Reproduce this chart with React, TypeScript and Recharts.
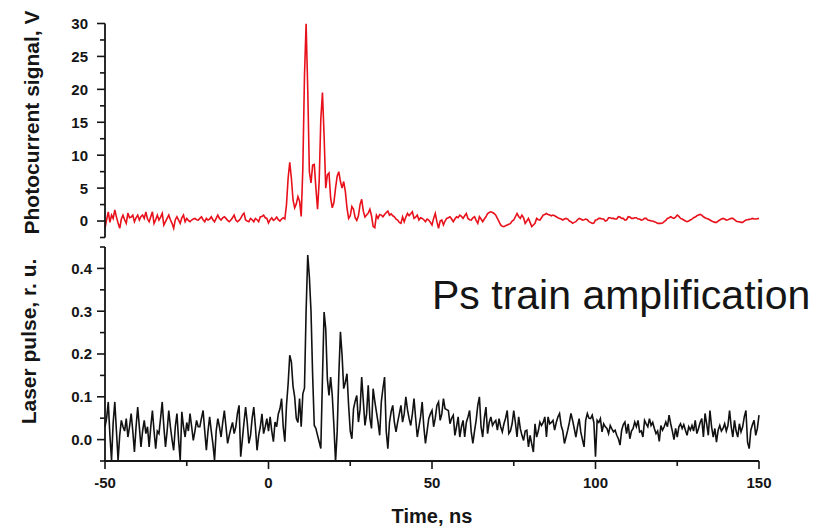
import React from 'react'
import { LineChart, Line, XAxis, YAxis } from 'recharts'

// time axis, ns (0.5 ns sampling)
const timeNs = [
  -50, -49.5, -49, -48.5, -48, -47.5, -47, -46.5, -46, -45.5,
  -45, -44.5, -44, -43.5, -43, -42.5, -42, -41.5, -41, -40.5,
  -40, -39.5, -39, -38.5, -38, -37.5, -37, -36.5, -36, -35.5,
  -35, -34.5, -34, -33.5, -33, -32.5, -32, -31.5, -31, -30.5,
  -30, -29.5, -29, -28.5, -28, -27.5, -27, -26.5, -26, -25.5,
  -25, -24.5, -24, -23.5, -23, -22.5, -22, -21.5, -21, -20.5,
  -20, -19.5, -19, -18.5, -18, -17.5, -17, -16.5, -16, -15.5,
  -15, -14.5, -14, -13.5, -13, -12.5, -12, -11.5, -11, -10.5,
  -10, -9.5, -9, -8.5, -8, -7.5, -7, -6.5, -6, -5.5,
  -5, -4.5, -4, -3.5, -3, -2.5, -2, -1.5, -1, -0.5,
  0, 0.5, 1, 1.5, 2, 2.5, 3, 3.5, 4, 4.5,
  5, 5.5, 6, 6.5, 7, 7.5, 8, 8.5, 9, 9.5,
  10, 10.5, 11, 11.5, 12, 12.5, 13, 13.5, 14, 14.5,
  15, 15.5, 16, 16.5, 17, 17.5, 18, 18.5, 19, 19.5,
  20, 20.5, 21, 21.5, 22, 22.5, 23, 23.5, 24, 24.5,
  25, 25.5, 26, 26.5, 27, 27.5, 28, 28.5, 29, 29.5,
  30, 30.5, 31, 31.5, 32, 32.5, 33, 33.5, 34, 34.5,
  35, 35.5, 36, 36.5, 37, 37.5, 38, 38.5, 39, 39.5,
  40, 40.5, 41, 41.5, 42, 42.5, 43, 43.5, 44, 44.5,
  45, 45.5, 46, 46.5, 47, 47.5, 48, 48.5, 49, 49.5,
  50, 50.5, 51, 51.5, 52, 52.5, 53, 53.5, 54, 54.5,
  55, 55.5, 56, 56.5, 57, 57.5, 58, 58.5, 59, 59.5,
  60, 60.5, 61, 61.5, 62, 62.5, 63, 63.5, 64, 64.5,
  65, 65.5, 66, 66.5, 67, 67.5, 68, 68.5, 69, 69.5,
  70, 70.5, 71, 71.5, 72, 72.5, 73, 73.5, 74, 74.5,
  75, 75.5, 76, 76.5, 77, 77.5, 78, 78.5, 79, 79.5,
  80, 80.5, 81, 81.5, 82, 82.5, 83, 83.5, 84, 84.5,
  85, 85.5, 86, 86.5, 87, 87.5, 88, 88.5, 89, 89.5,
  90, 90.5, 91, 91.5, 92, 92.5, 93, 93.5, 94, 94.5,
  95, 95.5, 96, 96.5, 97, 97.5, 98, 98.5, 99, 99.5,
  100, 100.5, 101, 101.5, 102, 102.5, 103, 103.5, 104, 104.5,
  105, 105.5, 106, 106.5, 107, 107.5, 108, 108.5, 109, 109.5,
  110, 110.5, 111, 111.5, 112, 112.5, 113, 113.5, 114, 114.5,
  115, 115.5, 116, 116.5, 117, 117.5, 118, 118.5, 119, 119.5,
  120, 120.5, 121, 121.5, 122, 122.5, 123, 123.5, 124, 124.5,
  125, 125.5, 126, 126.5, 127, 127.5, 128, 128.5, 129, 129.5,
  130, 130.5, 131, 131.5, 132, 132.5, 133, 133.5, 134, 134.5,
  135, 135.5, 136, 136.5, 137, 137.5, 138, 138.5, 139, 139.5,
  140, 140.5, 141, 141.5, 142, 142.5, 143, 143.5, 144, 144.5,
  145, 145.5, 146, 146.5, 147, 147.5, 148, 148.5, 149, 149.5,
  150,
]

// photocurrent signal, V
const photocurrent = [
  -1.1, 0.2, 1.4, -0.2, 0.9, 0.4, 1.7, 0.6, -0.3, -1.1,
  0.3, 0.9, 0.2, -0.35, 1.2, 0.5, 0.6, 0.9, -0.1, 0.5,
  0.9, 0.15, 0.7, 0.9, 0.4, 1.4, 0.3, -0.1, 0.65, 1.4,
  -0.35, 0.2, 0.9, 0.15, 0.6, 1.15, -0.6, -0.1, 0.4, 0.9,
  0.2, -0.35, -1.1, 0.2, 0.65, 0.15, -0.35, 0.5, 0.9, -0.1,
  0.4, 0.1, -0.1, 0.15, 0.3, 0.4, 0.2, 0.15, 0.4, 0.65,
  0.2, -0.1, 0.4, 0.15, 0.3, 0.65, 0.2, -0.1, 0.4, 0.9,
  0.4, 0.15, 0.5, 0.65, 0.4, 0.1, -0.1, 0.15, 0.5, 0.9,
  0.15, -0.1, 0.1, 0.4, 0.9, 1.2, 0.15, 0.0, -0.1, 0.4,
  0.2, -0.1, 0.4, 0.2, -0.1, 0.65, 0.7, 0.9, 0.5, 0.4,
  -0.3, 0.2, 0.5, 0.1, 0.3, 0.6, 0.2, 0.0, 0.3, 0.5,
  0.3, 2.5, 6.5, 8.9, 6.5, 3.2, 2.0, 2.6, 3.7, 3.0,
  0.7, 8.0, 22.0, 30.0, 20.0, 7.5, 5.8, 8.5, 8.6, 5.0,
  1.8, 6.0, 15.5, 19.5, 13.0, 5.0, 7.0, 7.3, 3.5, 2.0,
  2.8, 5.0, 6.8, 7.5, 6.0, 5.0, 6.0, 4.5, 2.0, 0.4,
  0.8, 2.2, 1.8, 0.5, 0.1, 0.8, 2.5, 3.3, 1.5, 0.6,
  0.9, 1.2, 1.8, 0.8, -0.8, -1.0, 0.9, 0.4, 1.0, 0.9,
  0.65, 1.0, 1.3, 1.5, 0.9, 1.1, 0.8, 0.65, 0.3, 0.15,
  -0.2, -0.35, 0.65, -0.1, 0.6, 1.15, 0.8, 1.1, 1.4, 0.4,
  0.6, 0.9, 0.15, 0.5, 0.4, 0.2, -0.1, 0.3, 0.15, -0.2,
  -0.6, 0.4, 1.15, -0.1, -1.1, 0.0, 0.15, -0.6, 0.0, 0.4,
  0.5, 0.65, 0.3, -0.1, 0.3, 0.65, 0.5, 0.9, 0.7, 0.4,
  0.8, 1.15, 0.4, 0.2, 0.15, 0.5, 0.65, 0.1, -0.35, 0.65,
  0.3, -0.1, 0.3, 0.65, 1.15, 1.3, 1.4, 1.3, 1.15, 0.9,
  0.4, -0.1, -0.6, -0.8, -0.85, -0.7, -0.6, -0.5, -0.35, 0.0,
  0.15, 0.65, 1.15, 0.7, 0.4, 0.9, 0.5, -0.35, 0.0, 0.4,
  -0.2, -0.85, -0.6, -0.35, 0.4, 0.2, 0.15, 0.5, 0.9, 1.0,
  1.15, 1.0, 0.9, 0.8, 0.9, 0.8, 0.65, 0.5, 0.4, 0.3,
  0.15, 0.3, 0.4, 0.3, 0.0, -0.1, -0.35, -0.2, -0.1, 0.2,
  0.4, 0.3, 0.15, 0.2, 0.3, 0.2, -0.1, -0.2, -0.35, -0.3,
  0.15, 0.2, 0.4, 0.4, 0.3, 0.3, 0.0, 0.1, 0.5, 0.5,
  0.4, 0.4, 0.3, 0.3, 0.65, 0.6, 0.4, 0.4, 0.15, 0.2,
  0.65, 0.6, 0.4, 0.4, 0.5, 0.5, 0.3, 0.3, 0.15, 0.2,
  0.4, 0.4, 0.15, 0.1, 0.0, 0.0, -0.1, -0.2, -0.35, -0.35,
  -0.35, -0.3, -0.1, 0.1, 0.4, 0.5, 0.65, 0.5, 0.4, 0.6,
  0.9, 0.7, 0.4, 0.3, 0.15, 0.0, -0.1, 0.0, 0.15, 0.3,
  0.5, 0.6, 0.8, 0.9, 1.0, 0.9, 0.65, 0.5, 0.4, 0.3,
  0.15, 0.0, -0.1, -0.2, -0.2, 0.0, 0.15, 0.3, 0.4, 0.3,
  0.15, 0.2, 0.3, 0.4, 0.4, 0.2, 0.0, -0.1, -0.1, -0.2,
  -0.2, 0.0, 0.15, 0.2, 0.25, 0.3, 0.4, 0.3, 0.3, 0.35,
  0.4,
]

// laser pulse, r. u.
const laserPulse = [
  0.03, 0.05, 0.088, 0.01, -0.048, 0.04, 0.088, 0.02, -0.048, 0.01,
  0.045, 0.03, 0.02, 0.049, 0.006, 0.03, 0.061, 0.02, -0.029, 0.03,
  0.076, 0.03, -0.017, 0.02, 0.045, 0.014, 0.03, -0.017, 0.03, 0.068,
  0.02, -0.021, 0.02, 0.014, 0.05, 0.088, 0.03, -0.017, 0.02, 0.068,
  0.03, 0.0, -0.025, 0.03, 0.061, 0.0, -0.048, 0.065, 0.03, 0.006,
  0.04, 0.02, 0.061, 0.03, -0.002, 0.02, 0.045, 0.03, 0.03, 0.05,
  0.068, 0.02, -0.025, 0.02, 0.053, 0.02, -0.01, -0.048, 0.02, 0.049,
  0.03, 0.006, 0.04, 0.068, 0.03, -0.009, 0.01, 0.026, 0.04, 0.014,
  0.03, 0.061, 0.08, -0.04, 0.0, 0.04, 0.076, 0.04, -0.009, 0.01,
  0.05, 0.076, 0.03, -0.025, 0.01, 0.03, 0.06, 0.014, 0.03, 0.049,
  0.02, 0.053, 0.02, -0.005, 0.041, 0.03, 0.06, 0.072, 0.096, 0.03,
  -0.005, 0.08, 0.13, 0.197, 0.181, 0.125, 0.1, 0.05, 0.04, 0.096,
  0.03, 0.107, 0.12, 0.3, 0.431, 0.38, 0.3, 0.15, 0.033, 0.026,
  0.01, -0.005, -0.021, 0.142, 0.298, 0.259, 0.142, 0.103, 0.146, 0.103,
  0.033, -0.052, 0.018, 0.15, 0.252, 0.197, 0.119, 0.134, 0.154, 0.08,
  0.02, 0.002, 0.072, 0.09, 0.103, 0.041, 0.07, 0.146, 0.09, 0.033,
  0.06, 0.127, 0.05, 0.026, 0.119, 0.09, 0.065, 0.04, 0.01, 0.088,
  0.12, 0.146, 0.02, -0.021, 0.04, 0.065, 0.08, 0.04, 0.018, 0.041,
  0.06, 0.08, 0.041, 0.06, 0.1, 0.07, 0.049, 0.033, 0.06, 0.096,
  0.05, 0.006, 0.03, 0.053, 0.088, 0.03, -0.009, 0.02, 0.049, 0.06,
  0.068, 0.03, 0.05, 0.08, 0.088, 0.045, 0.06, 0.096, 0.072, 0.07,
  0.068, 0.037, 0.05, 0.057, 0.01, 0.03, 0.053, 0.006, 0.03, 0.045,
  0.006, 0.04, 0.053, 0.068, 0.018, -0.009, 0.02, 0.045, 0.08, 0.1,
  0.03, 0.006, 0.05, 0.076, 0.014, 0.04, 0.053, 0.033, 0.04, 0.045,
  0.022, 0.049, 0.03, 0.018, 0.037, 0.05, 0.068, 0.014, 0.02, 0.037,
  0.068, 0.04, 0.006, 0.053, 0.026, 0.01, -0.002, 0.02, 0.022, -0.017,
  0.01, -0.01, -0.029, 0.037, 0.006, 0.02, 0.041, 0.033, 0.04, 0.053,
  0.006, 0.053, 0.037, 0.04, 0.045, 0.022, 0.04, 0.053, 0.061, 0.033,
  0.02, -0.009, 0.006, 0.022, 0.04, 0.061, 0.045, 0.026, 0.006, 0.03,
  0.049, 0.018, 0.0, -0.017, 0.045, 0.061, 0.05, 0.049, 0.057, 0.04,
  -0.04, 0.045, 0.04, 0.049, 0.018, 0.037, 0.03, 0.026, 0.014, 0.033,
  0.025, 0.018, 0.022, 0.01, 0.002, -0.013, 0.022, 0.035, 0.041, 0.014,
  0.037, 0.002, 0.02, 0.026, 0.041, 0.03, 0.045, 0.018, 0.02, 0.006,
  0.045, 0.037, 0.03, 0.049, 0.033, 0.04, 0.026, 0.014, 0.02, -0.004,
  0.033, 0.022, 0.03, 0.041, 0.03, 0.057, 0.037, 0.02, 0.0, 0.026,
  0.006, 0.03, 0.037, 0.026, 0.035, 0.022, 0.01, 0.03, 0.022, 0.033,
  0.02, 0.045, 0.014, 0.026, 0.04, 0.049, 0.006, 0.061, 0.037, 0.01,
  0.068, 0.03, 0.006, 0.026, -0.006, 0.022, 0.033, 0.02, 0.026, 0.037,
  0.02, 0.033, 0.068, 0.03, 0.006, 0.045, 0.02, 0.006, 0.037, 0.018,
  0.03, 0.053, 0.068, -0.006, -0.021, 0.022, 0.035, 0.045, 0.01, 0.026,
  0.057,
]

const timeTicks = [-50, -25, 0, 25, 50, 75, 100, 125, 150]
const timeLabels = [-50, 0, 50, 100, 150]
const photoTicks = [-2.5, 0, 2.5, 5, 7.5, 10, 12.5, 15, 17.5, 20, 22.5, 25, 27.5, 30]
const photoLabels = [0, 5, 10, 15, 20, 25, 30]
const laserTicks = [-0.05, 0, 0.05, 0.1, 0.15, 0.2, 0.25, 0.3, 0.35, 0.4, 0.45]
const laserLabels = [0, 0.1, 0.2, 0.3, 0.4]

const INK = '#151515'
const FONT = '"Liberation Sans", Arial, Helvetica, sans-serif'

const photoData = timeNs.map((t, i) => ({ t, v: photocurrent[i] }))
const laserData = timeNs.map((t, i) => ({ t, v: laserPulse[i] }))

function LeftTick(props: any) {
  const { x, y, payload, labels, gap, digits } = props
  const major = labels.includes(payload.value)
  return (
    <g>
      <line x1={x} x2={x - (major ? 8 : 5)} y1={y} y2={y} stroke={INK} strokeWidth={1.6} />
      {major && (
        <text x={x - gap} y={y} dy="0.36em" textAnchor="end" fontFamily={FONT} fontWeight="bold" fontSize={15} fill={INK}>
          {payload.value.toFixed(digits)}
        </text>
      )}
    </g>
  )
}

function BottomTick(props: any) {
  const { x, y, payload } = props
  const major = timeLabels.includes(payload.value)
  return (
    <g>
      <line x1={x} x2={x} y1={y} y2={y + (major ? 8 : 5)} stroke={INK} strokeWidth={1.6} />
      {major && (
        <text x={x} y={y + 27} textAnchor="middle" fontFamily={FONT} fontWeight="bold" fontSize={15} fill={INK}>
          {payload.value}
        </text>
      )}
    </g>
  )
}

const axisLine = { stroke: INK, strokeWidth: 1.8 }

export default function App() {
  return (
    <div style={{ position: 'absolute', left: 0, top: 0, width: 832, height: 531, background: '#fff' }}>
      <div style={{ position: 'absolute', left: 0, top: 0 }}>
        <LineChart width={832} height={240} data={photoData} margin={{ top: 23.5, right: 73, bottom: 2.5, left: 45 }}>
          <XAxis type="number" dataKey="t" domain={[-50, 150]} hide />
          <YAxis
            type="number"
            domain={[-2.5, 30]}
            allowDataOverflow
            ticks={photoTicks}
            interval={0}
            width={60}
            tickSize={0}
            tickMargin={0}
            tickLine={false}
            axisLine={axisLine}
            tick={(p: any) => <LeftTick {...p} labels={photoLabels} gap={17} digits={0} />}
            label={{
              value: 'Photocurrent signal, V',
              content: () => (
                <text transform="translate(39,122.5) rotate(-90)" textAnchor="middle" fontFamily={FONT} fontWeight="bold" fontSize={21} fill={INK}>
                  Photocurrent signal, V
                </text>
              ),
            }}
          />
          <Line type="linear" dataKey="v" stroke="#e8101a" strokeWidth={1.6} dot={false} isAnimationActive={false} />
        </LineChart>
      </div>
      <div style={{ position: 'absolute', left: 0, top: 240 }}>
        <LineChart width={832} height={291} data={laserData} margin={{ top: 7, right: 73, bottom: 0, left: 45 }}>
          <XAxis
            type="number"
            dataKey="t"
            domain={[-50, 150]}
            ticks={timeTicks}
            interval={0}
            height={70}
            tickSize={0}
            tickMargin={0}
            tickLine={false}
            axisLine={axisLine}
            tick={(p: any) => <BottomTick {...p} />}
            label={{
              value: 'Time, ns',
              content: () => (
                <text x={432} y={283} textAnchor="middle" fontFamily={FONT} fontWeight="bold" fontSize={20} fill={INK}>
                  Time, ns
                </text>
              ),
            }}
          />
          <YAxis
            type="number"
            domain={[-0.05, 0.45]}
            allowDataOverflow
            ticks={laserTicks}
            interval={0}
            width={60}
            tickSize={0}
            tickMargin={0}
            tickLine={false}
            axisLine={axisLine}
            tick={(p: any) => <LeftTick {...p} labels={laserLabels} gap={13} digits={1} />}
            label={{
              value: 'Laser pulse, r. u.',
              content: () => (
                <text transform="translate(36,101.5) rotate(-90)" textAnchor="middle" fontFamily={FONT} fontWeight="bold" fontSize={21} fill={INK}>
                  Laser pulse, r. u.
                </text>
              ),
            }}
          />
          <Line type="linear" dataKey="v" stroke="#111" strokeWidth={1.6} dot={false} isAnimationActive={false} />
        </LineChart>
      </div>
      <div
        style={{
          position: 'absolute',
          left: 432,
          top: 275,
          fontFamily: FONT,
          fontSize: 41,
          lineHeight: 1,
          color: INK,
          whiteSpace: 'nowrap',
        }}
      >
        Ps train amplification
      </div>
    </div>
  )
}
